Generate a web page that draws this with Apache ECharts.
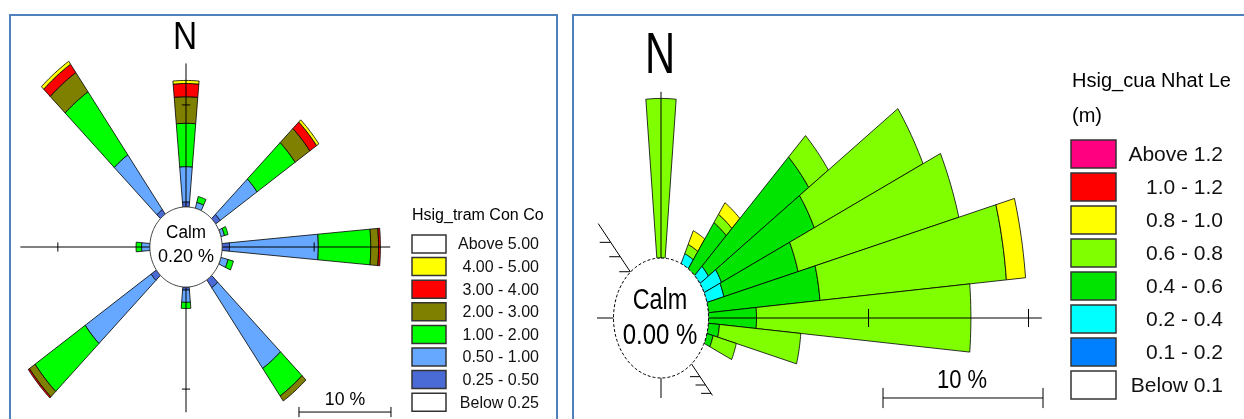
<!DOCTYPE html>
<html lang="en">
<head>
<meta charset="UTF-8">
<title>Hsig roses</title>
<style>
  html, body { margin: 0; padding: 0; background: #fff; }
  #chart { width: 1244px; height: 419px; }
</style>
<script src="https://cdn.jsdelivr.net/npm/echarts@6/dist/echarts.min.js"></script>
</head>
<body>
<div id="chart"></div>
<script>
// ---- left rose: Hsig_tram Con Co, frequency (%) per direction and class ----
const leftDirs = [0, 20, 50, 70, 90, 110, 140, 180, 230, 270, 320];
const left025  = [0.5, 0, 0.6, 0, 0.8, 0, 0.95, 0.3, 0.7, 0, 0.55];      // 0.25 - 0.50
const left050  = [3.45, 0.6, 4.9, 0.4, 9.65, 0.8, 9.65, 1.2, 8.75, 0.9, 6.55]; // 0.50 - 1.00
const left100  = [4.25, 0.6, 5.05, 0.4, 5.7, 0.6, 3.3, 0.6, 6.65, 0.6, 7.55];  // 1.00 - 2.00
const left200  = [2.6, 0, 1.95, 0, 0.85, 0, 0.6, 0, 0.75, 0, 2.3];       // 2.00 - 3.00
const left300  = [1.3, 0, 0.9, 0, 0.2, 0, 0, 0, 0.15, 0, 1.0];           // 3.00 - 4.00
const left400  = [0.3, 0, 0.3, 0, 0, 0, 0, 0, 0, 0, 0.35];               // 4.00 - 5.00
const leftCalmText = '0.20 %';
const leftLegendTitle = 'Hsig_tram Con Co';
const leftLegendLabels = ['Above 5.00', '4.00 - 5.00', '3.00 - 4.00', '2.00 - 3.00',
                          '1.00 - 2.00', '0.50 - 1.00', '0.25 - 0.50', 'Below 0.25'];
const leftLegendColors = ['#FFFFFF', '#FFFF00', '#FF0000', '#808000',
                          '#00FF00', '#66A8FF', '#4A6BD6', '#FFFFFF'];

// ---- right rose: Hsig_cua Nhat Le (m) ----
const rightDirs = [0, 30, 40, 50, 60, 70, 80, 90, 100, 110];
const right02 = [0, 0.55, 0, 0.65, 1.2, 1.1, 0, 0, 0, 0];          // 0.2 - 0.4
const right04 = [0, 0, 2.8, 7.65, 6.4, 4.8, 7.0, 3.0, 0.7, 0.4];   // 0.4 - 0.6
const right06 = [7.9, 0.5, 0.5, 1.5, 7.5, 10.4, 11.7, 13.4, 5.1, 1.5]; // 0.6 - 0.8
const right08 = [0, 0.75, 0.7, 0, 0, 0, 1.2, 0, 0, 0];             // 0.8 - 1.0
const rightCalmText = '0.00 %';
const rightLegendTitle = ['Hsig_cua Nhat Le', '(m)'];
const rightLegendLabels = ['Above 1.2', '1.0 - 1.2', '0.8 - 1.0', '0.6 - 0.8',
                           '0.4 - 0.6', '0.2 - 0.4', '0.1 - 0.2', 'Below 0.1'];
const rightLegendColors = ['#FF0080', '#FF0000', '#FFFF00', '#80FF00',
                           '#00E400', '#00FFFF', '#0080FF', '#FFFFFF'];

// layout of the two roses (pixel centre, pixels per % on x / y, calm radius in %)
const L = { cx: 186, cy: 247, sx: 9.2, sy: 10.2, calm: 3.93, half: 5 };
const R = { cx: 661, cy: 318, sx: 16, sy: 20.2, calm: 2.97, half: 5 };
const FONT = 'Liberation Sans, Arial, sans-serif';

// stack the classes into [angle, from, to, colorIndex]
function buildSegments(dirs, classes, colorIdx) {
  const out = [];
  dirs.forEach(function (d, i) {
    let acc = 0;
    classes.forEach(function (arr, k) {
      const v = arr[i];
      if (v > 0) {
        out.push([d, acc, acc + v, colorIdx[k]]);
        acc += v;
      }
    });
  });
  return out;
}
const leftSegs = buildSegments(leftDirs, [left025, left050, left100, left200, left300, left400], [6, 5, 4, 3, 2, 1]);
const rightSegs = buildSegments(rightDirs, [right02, right04, right06, right08], [5, 4, 3, 2]);

function polar(api, ang, r) {
  const a = ang * Math.PI / 180;
  return api.coord([r * Math.sin(a), r * Math.cos(a)]);
}

function sectorRender(cfg, colors) {
  return function (params, api) {
    const ang = api.value(0);
    const r0 = cfg.calm + api.value(1);
    const r1 = cfg.calm + api.value(2);
    const pts = [];
    const n = 10;
    for (let i = 0; i <= n; i++) pts.push(polar(api, ang - cfg.half + 2 * cfg.half * i / n, r1));
    for (let i = n; i >= 0; i--) pts.push(polar(api, ang - cfg.half + 2 * cfg.half * i / n, r0));
    return {
      type: 'polygon',
      shape: { points: pts },
      style: { fill: colors[api.value(3)], stroke: '#000', lineWidth: 0.8 }
    };
  };
}

function line(p1, p2, w) {
  return { type: 'line', shape: { x1: p1[0], y1: p1[1], x2: p2[0], y2: p2[1] },
           style: { stroke: '#000', lineWidth: w || 1 } };
}

// axis cross, ticks and 10 % scale bar
function axesRender(cfg, ext, ticks, tickLen, bar, hatch) {
  return function (params, api) {
    const c = [];
    c.push(line(api.coord([ext[0], 0]), api.coord([ext[1], 0])));
    c.push(line(api.coord([0, ext[2]]), api.coord([0, ext[3]])));
    ticks.forEach(function (t) {
      const r = cfg.calm + t;
      c.push(line(api.coord([r, -tickLen]), api.coord([r, tickLen])));
      if (ext[0] < -r) c.push(line(api.coord([-r, -tickLen]), api.coord([-r, tickLen])));
      if (ext[3] > r) c.push(line(api.coord([-tickLen, r]), api.coord([tickLen, r])));
      if (ext[2] < -r) c.push(line(api.coord([-tickLen, -r]), api.coord([tickLen, -r])));
    });
    // scale bar, 10 %
    c.push(line(api.coord([bar[0], bar[1]]), api.coord([bar[0] + 10, bar[1]])));
    c.push(line(api.coord([bar[0], bar[1] - bar[2]]), api.coord([bar[0], bar[1] + bar[2]])));
    c.push(line(api.coord([bar[0] + 10, bar[1] - bar[2]]), api.coord([bar[0] + 10, bar[1] + bar[2]])));
    (hatch || []).forEach(function (h) {
      c.push(line(polar(api, h.ang, cfg.calm), polar(api, h.ang, h.len)));
      h.ticks.forEach(function (r) {
        const p = polar(api, h.ang, r);
        c.push(line(p, [p[0] - h.tl, p[1]]));
      });
    });
    return { type: 'group', children: c };
  };
}

function calmRender(cfg, dashed) {
  return function (params, api) {
    const pts = [];
    for (let i = 0; i < 90; i++) pts.push(polar(api, i * 4, cfg.calm));
    return {
      type: 'polygon',
      shape: { points: pts },
      style: { fill: '#fff', stroke: dashed ? '#000' : '#444', lineWidth: 1,
               lineDash: dashed ? [3, 2] : null }
    };
  };
}

function legend(x, top, step, w, h, textRight, fontSize, labels, colors) {
  const g = [];
  labels.forEach(function (lab, i) {
    g.push({ type: 'rect', z: 100, shape: { x: x, y: top + step * i, width: w, height: h },
             style: { fill: colors[i], stroke: '#333', lineWidth: 1.5 } });
    g.push({ type: 'text', z: 100, x: textRight, y: top + step * i + h / 2 + 1,
             style: { text: lab, x: 0, y: 0, align: 'right', verticalAlign: 'middle',
                      font: fontSize + 'px ' + FONT, fill: '#111' } });
  });
  return g;
}

function label(text, x, y, size, sx, align) {
  return { type: 'text', z: 100, x: x, y: y, scaleX: sx,
           style: { text: text, x: 0, y: 0, align: align || 'center', verticalAlign: 'middle',
                    font: size + 'px ' + FONT, fill: '#000' } };
}

const chart = echarts.init(document.getElementById('chart'));
chart.setOption({
  animation: false,
  grid: [
    { left: L.cx - 20 * L.sx, top: L.cy - 24 * L.sy, width: 60 * L.sx, height: 41 * L.sy, outerBoundsMode: 'none' },
    { left: R.cx - 5 * R.sx, top: R.cy - 15 * R.sy, width: 40 * R.sx, height: 20 * R.sy, outerBoundsMode: 'none' }
  ],
  xAxis: [
    { gridIndex: 0, type: 'value', min: -20, max: 40, show: false },
    { gridIndex: 1, type: 'value', min: -5, max: 35, show: false }
  ],
  yAxis: [
    { gridIndex: 0, type: 'value', min: -17, max: 24, show: false },
    { gridIndex: 1, type: 'value', min: -5, max: 15, show: false }
  ],
  series: [
    { type: 'custom', xAxisIndex: 0, yAxisIndex: 0, z: 2, clip: false,
      data: leftSegs, renderItem: sectorRender(L, leftLegendColors) },
    { type: 'custom', xAxisIndex: 0, yAxisIndex: 0, z: 3, clip: false, data: [[0, 0]],
      renderItem: axesRender(L, [-18, 22.2, -16.2, 18], [10], 0.45, [12.28, -16.18, 0.5]) },
    { type: 'custom', xAxisIndex: 0, yAxisIndex: 0, z: 4, clip: false, data: [[0, 0]],
      renderItem: calmRender(L, false) },
    { type: 'custom', xAxisIndex: 1, yAxisIndex: 1, z: 2, clip: false,
      data: rightSegs, renderItem: sectorRender(R, rightLegendColors) },
    { type: 'custom', xAxisIndex: 1, yAxisIndex: 1, z: 3, clip: false, data: [[0, 0]],
      renderItem: axesRender(R, [-4, 23.8, -3.96, 11.2], [10, 20], 0.45, [13.875, -3.96, 0.5],
        [{ ang: 320, len: 6.1, ticks: [2.99, 3.96, 4.89], tl: 11 },
         { ang: 140, len: 5.0, ticks: [3.79, 4.33, 4.87], tl: 10 }]) },
    { type: 'custom', xAxisIndex: 1, yAxisIndex: 1, z: 4, clip: false, data: [[0, 0]],
      renderItem: calmRender(R, true) }
  ],
  graphic: [].concat(
    [
      { type: 'rect', z: 100, shape: { x: 10, y: 15, width: 547, height: 420 },
        style: { fill: 'none', stroke: '#4F81BD', lineWidth: 2 } },
      { type: 'rect', z: 100, shape: { x: 573, y: 15, width: 700, height: 420 },
        style: { fill: 'none', stroke: '#4F81BD', lineWidth: 2 } },
      label('N', 185, 39, 38, 0.88),
      label('Calm', 186, 233, 18, 0.95),
      label(leftCalmText, 186, 257.5, 18, 1),
      label('10 %', 345, 400, 19, 0.93),
      label('N', 660, 56.5, 58, 0.72),
      label('Calm', 660, 301, 30, 0.78),
      label(rightCalmText, 660, 336, 30, 0.8),
      label('10 %', 962, 381, 25, 0.88),
      label(leftLegendTitle, 412, 215.5, 16, 1, 'left'),
      label(rightLegendTitle[0], 1072, 81, 20, 1, 'left'),
      label(rightLegendTitle[1], 1072, 116, 20, 1, 'left')
    ],
    legend(412, 235, 22.6, 34, 18, 539, 16, leftLegendLabels, leftLegendColors),
    legend(1071, 140, 33, 45, 28, 1223, 21, rightLegendLabels, rightLegendColors)
  )
});
</script>
</body>
</html>
